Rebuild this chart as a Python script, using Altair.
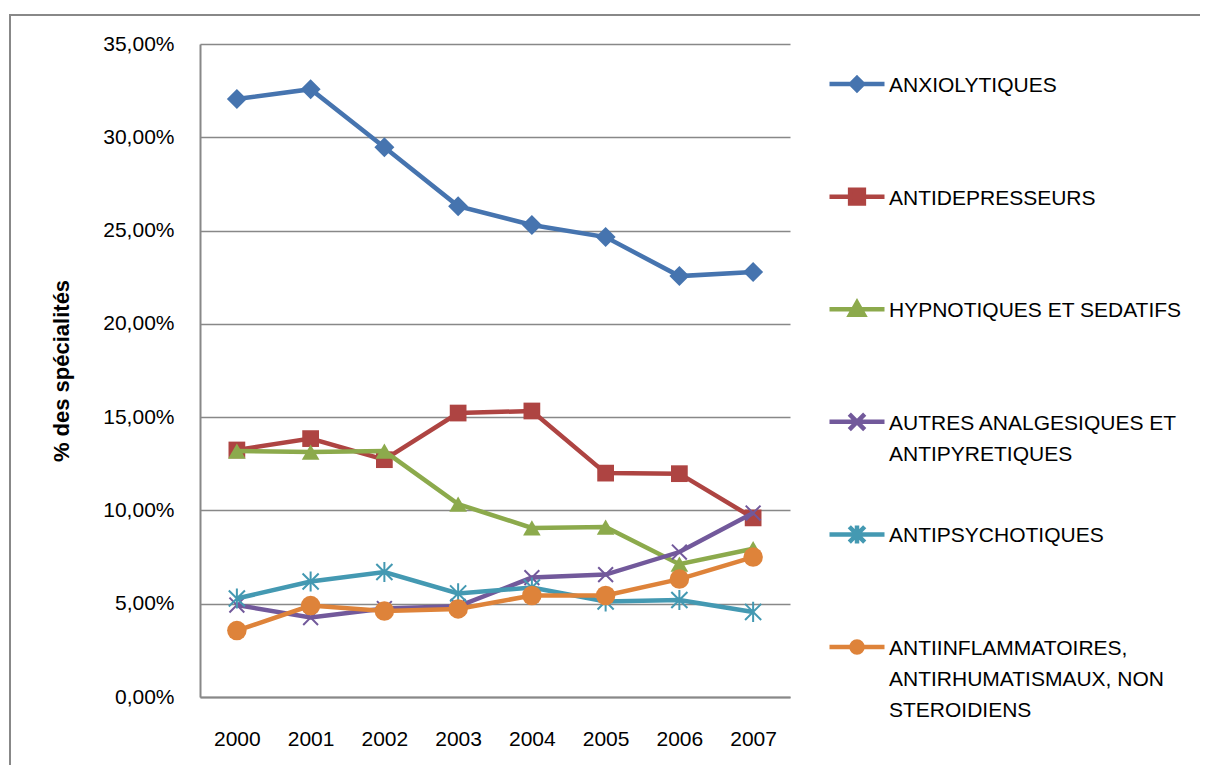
import altair as alt
import pandas as pd

years = ["2000", "2001", "2002", "2003", "2004", "2005", "2006", "2007"]

series = [
    "ANXIOLYTIQUES",
    "ANTIDEPRESSEURS",
    "HYPNOTIQUES ET SEDATIFS",
    "AUTRES ANALGESIQUES ET ANTIPYRETIQUES",
    "ANTIPSYCHOTIQUES",
    "ANTIINFLAMMATOIRES, ANTIRHUMATISMAUX, NON STEROIDIENS",
]

legend_lines = [
    ["ANXIOLYTIQUES"],
    ["ANTIDEPRESSEURS"],
    ["HYPNOTIQUES ET SEDATIFS"],
    ["AUTRES ANALGESIQUES ET", "ANTIPYRETIQUES"],
    ["ANTIPSYCHOTIQUES"],
    ["ANTIINFLAMMATOIRES,", "ANTIRHUMATISMAUX, NON", "STEROIDIENS"],
]

anxiolytiques = [32.05, 32.58, 29.47, 26.31, 25.30, 24.65, 22.56, 22.78]
antidepresseurs = [13.24, 13.85, 12.72, 15.22, 15.33, 12.00, 11.97, 9.60]
hypnotiques = [13.18, 13.13, 13.18, 10.34, 9.06, 9.11, 7.12, 7.95]
analgesiques = [4.93, 4.26, 4.74, 4.86, 6.40, 6.56, 7.77, 9.86]
antipsychotiques = [5.28, 6.19, 6.70, 5.55, 5.87, 5.12, 5.20, 4.56]
antiinflammatoires = [3.56, 4.90, 4.61, 4.72, 5.44, 5.44, 6.32, 7.50]

values = [anxiolytiques, antidepresseurs, hypnotiques, analgesiques,
          antipsychotiques, antiinflammatoires]

colors = ["#4674AF", "#AE4442", "#8CAA4C", "#72599B", "#4499B2", "#DE833A"]

rows = []
for s, vals in zip(series, values):
    for y, v in zip(years, vals):
        rows.append({"serie": s, "annee": y, "valeur": v})
df = pd.DataFrame(rows)

FONT = "Liberation Sans"
FS = 21
GRID = "#888888"

x_enc = alt.X("annee:O", sort=years, scale=alt.Scale(type="point", padding=0.5),
              axis=alt.Axis(title=None, labelAngle=0, ticks=False, domainColor=GRID, domainWidth=2,
                            labelPadding=31, labelFontSize=FS, labelFont=FONT, labelColor="#000000"))
y_enc = alt.Y("valeur:Q", scale=alt.Scale(domain=[0, 35], nice=False, zero=True),
              axis=alt.Axis(title="% des spécialités", values=[0, 5, 10, 15, 20, 25, 30, 35],
                            labelExpr="replace(format(datum.value, '.2f'), '.', ',') + '%'",
                            ticks=False, domainColor=GRID, domainWidth=2, gridColor=GRID, gridWidth=1.5,
                            labelPadding=26, labelFontSize=FS, labelFont=FONT, labelColor="#000000",
                            titleFont=FONT, titleFontSize=22, titleFontWeight="bold", titleColor="#000000",
                            titlePadding=29))

# marker definitions for the plotted points
X_PATH = "M-1,-1L1,1M-1,1L1,-1"
AST_PATH = "M-1,-1L1,1M-1,1L1,-1M0,-1.25L0,1.25"
markers = [
    dict(shape="diamond", size=400, filled=True),
    dict(shape="square", size=280, filled=True),
    dict(shape="triangle-up", size=310, filled=True),
    dict(shape=X_PATH, size=220, filled=False, strokeWidth=2),
    dict(shape=AST_PATH, size=260, filled=False, strokeWidth=2),
    dict(shape="circle", size=380, filled=True),
]

# legend symbol paths: line + marker, shifted to the first label line
D = 0.33
EXT = "M0,-1M0,2.32"
LINE = f"M-1,{D}L1,{D}"
s = 0.25
a = 0.28
r = 0.2
legend_paths = [
    EXT + LINE + f"M0,{D-0.22}L0.22,{D}L0,{D+0.22}L-0.22,{D}Z",
    EXT + LINE + f"M-{s},{D-s}L{s},{D-s}L{s},{D+s}L-{s},{D+s}Z",
    EXT + LINE + f"M0,{D-0.24}L0.25,{D+0.2}L-0.25,{D+0.2}Z",
    EXT + LINE + f"M-{a},{D-a}L{a},{D+a}M-{a},{D+a}L{a},{D-a}",
    EXT + LINE + f"M-{a},{D-a}L{a},{D+a}M-{a},{D+a}L{a},{D-a}M0,{D-0.33}L0,{D+0.33}",
    EXT + LINE + f"M-{r},{D}A{r},{r} 0 1,0 {r},{D}A{r},{r} 0 1,0 -{r},{D}Z",
]

label_expr = ""
for name, lines in zip(series, legend_lines):
    arr = "[" + ",".join("'" + l + "'" for l in lines) + "]"
    label_expr += f"datum.label == '{name}' ? {arr} : "
label_expr += "datum.label"

legend = alt.Legend(title=None, orient="none", legendX=627, legendY=1, padding=0,
                    labelFont=FONT, labelFontSize=FS, labelColor="#000000", labelBaseline="top",
                    labelOffset=2, labelLimit=500, labelExpr=label_expr, rowPadding=2.6,
                    symbolSize=3025, symbolStrokeWidth=4.5, symbolOpacity=1)

layers = []

# outer frame (decoration): top and left edges of the chart border
one = pd.DataFrame({"f": [0]})
frame_top = alt.Chart(one).mark_rule(stroke=GRID, strokeWidth=2).encode(
    x=alt.value(-191), x2=alt.value(1000), y=alt.value(-29))
frame_left = alt.Chart(one).mark_rule(stroke=GRID, strokeWidth=2).encode(
    x=alt.value(-190), y=alt.value(-30), y2=alt.value(740))
layers += [frame_top, frame_left]

for i, name in enumerate(series):
    base = alt.Chart(df).transform_filter(alt.datum.serie == name)
    line = base.mark_line(color=colors[i], strokeWidth=4.5).encode(x=x_enc, y=y_enc)
    m = markers[i]
    pt = base.mark_point(opacity=1, color=colors[i], **m).encode(x=x_enc, y=y_enc)
    layers.append(line)
    layers.append(pt)

legend_layer = alt.Chart(df).transform_filter("false").mark_point(opacity=1, filled=True).encode(
    x=x_enc, y=y_enc,
    fill=alt.Fill("serie:N", scale=alt.Scale(domain=series, range=colors), legend=legend),
    stroke=alt.Stroke("serie:N", scale=alt.Scale(domain=series, range=colors), legend=legend),
    shape=alt.Shape("serie:N", scale=alt.Scale(domain=series, range=legend_paths), legend=legend),
)
layers.append(legend_layer)

chart = alt.layer(*layers).properties(
    width=590, height=653,
    padding={"left": 192, "top": 36, "right": 410, "bottom": 68},
    autosize=alt.AutoSizeParams(type="none"),
).configure(
    style={"guide-label": {"lineHeight": 31}},
).configure_view(stroke=None)

chart.save("out.html", embed_options={"renderer": "svg", "actions": False})
